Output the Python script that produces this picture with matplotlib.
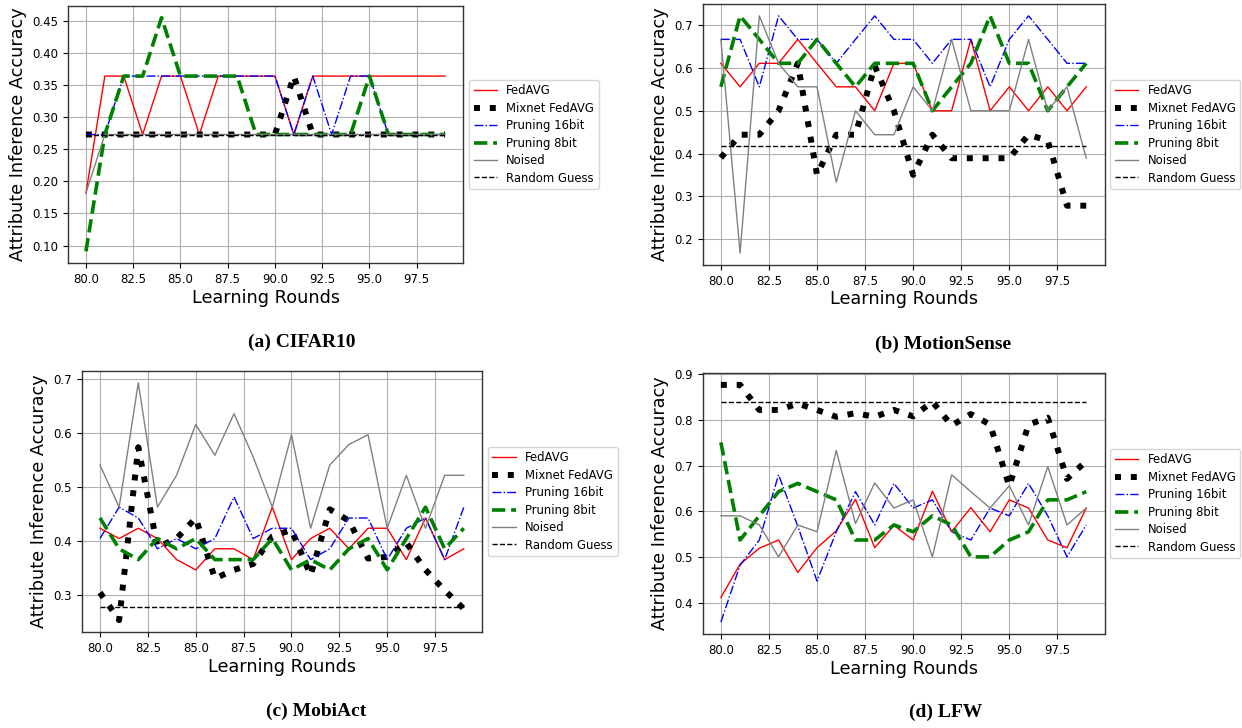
import matplotlib
matplotlib.use("Agg")
import matplotlib.pyplot as plt
import numpy as np

rounds = list(range(80, 100))
labels = ["FedAVG", "Mixnet FedAVG", "Pruning 16bit", "Pruning 8bit", "Noised", "Random Guess"]

# (a) CIFAR10
cifar_fedavg = [0.182, 0.364, 0.364, 0.273, 0.364, 0.364, 0.273, 0.364, 0.364, 0.364,
                0.364, 0.273, 0.364, 0.364, 0.364, 0.364, 0.364, 0.364, 0.364, 0.364]
cifar_mixnet = [0.273, 0.273, 0.273, 0.273, 0.273, 0.273, 0.273, 0.273, 0.273, 0.273,
                0.273, 0.364, 0.273, 0.273, 0.273, 0.273, 0.273, 0.273, 0.273, 0.273]
cifar_p16 = [0.273, 0.273, 0.364, 0.364, 0.364, 0.364, 0.364, 0.364, 0.364, 0.364,
             0.364, 0.273, 0.364, 0.273, 0.364, 0.364, 0.273, 0.273, 0.273, 0.273]
cifar_p8 = [0.091, 0.273, 0.364, 0.364, 0.455, 0.364, 0.364, 0.364, 0.364, 0.273,
            0.273, 0.273, 0.273, 0.273, 0.273, 0.364, 0.273, 0.273, 0.273, 0.273]
cifar_noised = [0.182, 0.273, 0.273, 0.273, 0.273, 0.273, 0.273, 0.273, 0.273, 0.273,
                0.273, 0.273, 0.273, 0.273, 0.273, 0.273, 0.273, 0.273, 0.273, 0.273]
cifar_random = 0.273

# (b) MotionSense
ms_fedavg = [0.611, 0.556, 0.611, 0.611, 0.667, 0.611, 0.556, 0.556, 0.500, 0.611,
             0.611, 0.500, 0.500, 0.667, 0.500, 0.556, 0.500, 0.556, 0.500, 0.556]
ms_mixnet = [0.390, 0.444, 0.444, 0.500, 0.611, 0.350, 0.444, 0.444, 0.605, 0.500,
             0.350, 0.444, 0.389, 0.389, 0.389, 0.389, 0.444, 0.430, 0.278, 0.278]
ms_p16 = [0.667, 0.667, 0.556, 0.722, 0.667, 0.667, 0.611, 0.667, 0.722, 0.667,
          0.667, 0.611, 0.667, 0.667, 0.556, 0.667, 0.722, 0.667, 0.611, 0.611]
ms_p8 = [0.556, 0.722, 0.667, 0.611, 0.611, 0.667, 0.611, 0.556, 0.611, 0.611,
         0.611, 0.500, 0.556, 0.611, 0.722, 0.611, 0.611, 0.500, 0.556, 0.611]
ms_noised = [0.667, 0.167, 0.722, 0.611, 0.556, 0.556, 0.333, 0.500, 0.444, 0.444,
             0.556, 0.500, 0.667, 0.500, 0.500, 0.500, 0.667, 0.500, 0.556, 0.389]
ms_random = 0.417

# (c) MobiAct
mo_fedavg = [0.423, 0.404, 0.423, 0.404, 0.365, 0.346, 0.385, 0.385, 0.365, 0.462,
             0.365, 0.404, 0.423, 0.385, 0.423, 0.423, 0.365, 0.442, 0.365, 0.385]
mo_mixnet = [0.304, 0.253, 0.573, 0.388, 0.404, 0.442, 0.330, 0.346, 0.357, 0.408,
             0.420, 0.336, 0.458, 0.437, 0.367, 0.370, 0.396, 0.346, 0.308, 0.274]
mo_p16 = [0.404, 0.462, 0.442, 0.385, 0.404, 0.385, 0.404, 0.481, 0.404, 0.423,
          0.423, 0.365, 0.385, 0.442, 0.442, 0.365, 0.423, 0.442, 0.365, 0.462]
mo_p8 = [0.442, 0.385, 0.365, 0.404, 0.385, 0.404, 0.365, 0.365, 0.365, 0.404,
         0.346, 0.365, 0.346, 0.385, 0.404, 0.346, 0.404, 0.462, 0.385, 0.423]
mo_noised = [0.540, 0.462, 0.692, 0.462, 0.521, 0.615, 0.558, 0.635, 0.555, 0.462,
             0.596, 0.423, 0.540, 0.578, 0.596, 0.423, 0.521, 0.423, 0.521, 0.521]
mo_random = 0.277

# (d) LFW
lfw_fedavg = [0.411, 0.484, 0.519, 0.537, 0.466, 0.520, 0.557, 0.626, 0.520, 0.569,
              0.537, 0.644, 0.555, 0.608, 0.555, 0.625, 0.607, 0.537, 0.520, 0.607]
lfw_mixnet = [0.877, 0.877, 0.822, 0.822, 0.836, 0.822, 0.807, 0.815, 0.807, 0.822,
              0.808, 0.840, 0.788, 0.813, 0.790, 0.655, 0.790, 0.805, 0.671, 0.710]
lfw_p16 = [0.357, 0.482, 0.537, 0.680, 0.567, 0.447, 0.555, 0.643, 0.570, 0.661,
           0.607, 0.625, 0.555, 0.537, 0.607, 0.590, 0.661, 0.590, 0.500, 0.570]
lfw_p8 = [0.751, 0.537, 0.590, 0.643, 0.661, 0.643, 0.625, 0.537, 0.537, 0.570,
          0.555, 0.590, 0.570, 0.500, 0.500, 0.537, 0.555, 0.625, 0.625, 0.643]
lfw_noised = [0.590, 0.590, 0.570, 0.500, 0.570, 0.555, 0.733, 0.573, 0.662, 0.607,
              0.625, 0.500, 0.680, 0.643, 0.607, 0.656, 0.570, 0.698, 0.570, 0.607]
lfw_random = 0.840

captions = ["(a) CIFAR10", "(b) MotionSense", "(c) MobiAct", "(d) LFW"]

W, H = 1242, 728
fig = plt.figure(figsize=(W / 100, H / 100), dpi=100)
fig.patch.set_facecolor("white")


def rect(l, t, r, b):
    return [l / W, 1 - b / H, (r - l) / W, (b - t) / H]


panels = [
    (rect(68, 6, 463, 263), (cifar_fedavg, cifar_mixnet, cifar_p16, cifar_p8, cifar_noised, cifar_random),
     np.arange(0.10, 0.46, 0.05), "%.2f", captions[0], (302, 342)),
    (rect(702.6, 4, 1104.5, 265), (ms_fedavg, ms_mixnet, ms_p16, ms_p8, ms_noised, ms_random),
     np.arange(0.2, 0.75, 0.1), "%.1f", captions[1], (943, 344)),
    (rect(81.8, 371, 482, 632), (mo_fedavg, mo_mixnet, mo_p16, mo_p8, mo_noised, mo_random),
     np.arange(0.3, 0.75, 0.1), "%.1f", captions[2], (316, 711)),
    (rect(702.6, 373, 1104.5, 634), (lfw_fedavg, lfw_mixnet, lfw_p16, lfw_p8, lfw_noised, lfw_random),
     np.arange(0.4, 0.95, 0.1), "%.1f", captions[3], (946, 712)),
]

for pos, series, yt, fmt, cap, cpos in panels:
    ax = fig.add_axes(pos)
    fed, mix, p16, p8, noi, rnd = series
    ax.plot(rounds, fed, color="red", lw=1.0, label=labels[0])
    ax.plot(rounds, mix, color="black", ls=":", lw=4.3, label=labels[1])
    ax.plot(rounds, p16, color="blue", ls="-.", lw=1.0, label=labels[2])
    ax.plot(rounds, p8, color="green", ls="--", lw=2.6, label=labels[3])
    ax.plot(rounds, noi, color="gray", lw=1.0, label=labels[4])
    ax.plot(rounds, [rnd] * len(rounds), color="black", ls="--", lw=1.0, label=labels[5])
    ax.set_xticks(np.arange(80, 99, 2.5))
    ax.set_yticks(yt)
    ax.yaxis.set_major_formatter(matplotlib.ticker.FormatStrFormatter(fmt))
    ax.xaxis.set_major_formatter(matplotlib.ticker.FormatStrFormatter("%.1f"))
    ax.tick_params(labelsize=8.5)
    ax.grid(True, color="#b0b0b0", lw=0.8)
    for sp in ax.spines.values():
        sp.set_color("#333333")
        sp.set_linewidth(1.0)
    ax.set_xlabel("Learning Rounds", fontsize=12.7, labelpad=2)
    ax.set_ylabel("Attribute Inference Accuracy", fontsize=12.7, labelpad=4)
    ax.legend(loc="center left", bbox_to_anchor=(1.0, 0.5), fontsize=8.4, labelspacing=0.38)
    fig.text(cpos[0] / W, 1 - cpos[1] / H, cap, ha="center", va="center",
             fontsize=14, fontweight="bold", family="Liberation Serif")

fig.savefig("out.png", dpi=100)
